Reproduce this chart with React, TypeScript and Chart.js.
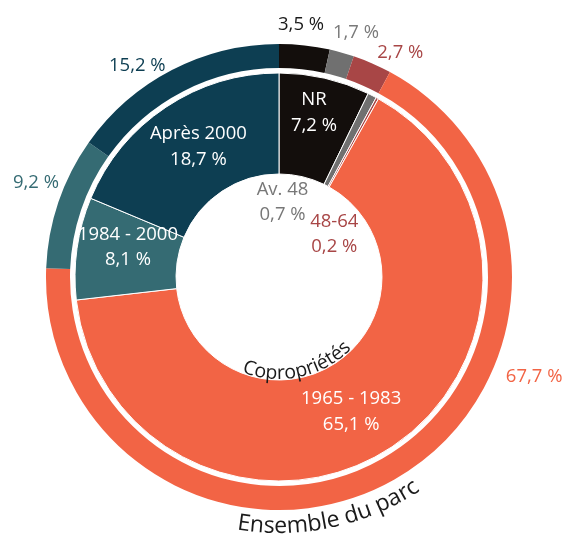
import React, { useEffect, useRef } from "react";
import { Chart, registerables } from "chart.js";

Chart.register(...registerables);

// ---------- data ----------
const categories = ["NR", "Av. 48", "48-64", "1965 - 1983", "1984 - 2000", "Après 2000"];
const ensembleValues = [3.5, 1.7, 2.7, 67.7, 9.2, 15.2];
const coproValues = [7.2, 0.7, 0.2, 65.1, 8.1, 18.7];
const ringTitles = ["Ensemble du parc", "Copropriétés"];

// ---------- style ----------
const sliceColors = ["#130e0c", "#707070", "#a84646", "#f26445", "#356b73", "#0d3e52"];
const outerTextColors = ["#1a1a1a", "#7a7a7a", "#a84646", "#f26445", "#356b73", "#0d3e52"];
const innerTextColors = ["#ffffff", "#777777", "#a84646", "#ffffff", "#ffffff", "#ffffff"];
// label anchors: angle (deg clockwise from top) and radius (px) around chart centre
const outerPlacement = [
  { a: 5.0, r: 253 },
  { a: 17.5, r: 256 },
  { a: 28.4, r: 255 },
  { a: 111.4, r: 274 },
  { a: 291.1, r: 260.5 },
  { a: 326.1, r: 254 },
];
const innerPlacement = [
  { a: 12.0, r: 168 },
  { a: 2.7, r: 75 },
  { a: 52.2, r: 70 },
  { a: 151.8, r: 152.6 },
  { a: 281.2, r: 154 },
  { a: 328.2, r: 153 },
];
const FONT = '"Open Sans", "Noto Sans", sans-serif';

const fmt = (v: number) => v.toFixed(1).replace(".", ",") + " %";

function drawBottomArcText(
  ctx: CanvasRenderingContext2D,
  text: string,
  cx: number,
  cy: number,
  radius: number,
  centerAngle: number
) {
  const widths = Array.from(text).map((ch) => ctx.measureText(ch).width);
  const total = widths.reduce((s, w) => s + w, 0);
  let cur = centerAngle + total / radius / 2;
  Array.from(text).forEach((ch, i) => {
    const w = widths[i];
    const ang = cur - w / 2 / radius;
    ctx.save();
    ctx.translate(cx + radius * Math.cos(ang), cy + radius * Math.sin(ang));
    ctx.rotate(ang - Math.PI / 2);
    ctx.textAlign = "center";
    ctx.textBaseline = "alphabetic";
    ctx.fillText(ch, 0, 0);
    ctx.restore();
    cur -= w / radius;
  });
}

const labelPlugin = {
  id: "ringLabels",
  afterDraw(chart: any) {
    const ctx = chart.ctx as CanvasRenderingContext2D;
    const outerMeta = chart.getDatasetMeta(0);
    const innerMeta = chart.getDatasetMeta(2);
    const arc0 = outerMeta.data[0];
    const cx = arc0.x;
    const cy = arc0.y;
    const pt = (aDeg: number, r: number) => {
      const a = (aDeg * Math.PI) / 180;
      return { x: cx + r * Math.sin(a), y: cy - r * Math.cos(a) };
    };
    ctx.save();
    ctx.font = `18.5px ${FONT}`;
    ctx.textAlign = "center";
    ctx.textBaseline = "middle";
    ensembleValues.forEach((v, i) => {
      const p = pt(outerPlacement[i].a, outerPlacement[i].r);
      ctx.fillStyle = outerTextColors[i];
      ctx.fillText(fmt(v), p.x, p.y);
    });
    coproValues.forEach((v, i) => {
      const p = pt(innerPlacement[i].a, innerPlacement[i].r);
      ctx.fillStyle = innerTextColors[i];
      ctx.fillText(categories[i], p.x, p.y - 12.75);
      ctx.fillText(fmt(v), p.x, p.y + 12.75);
    });
    // curved ring titles
    const innerArc = innerMeta.data[0];
    const outerArc = outerMeta.data[0];
    const titleAngle = (78 * Math.PI) / 180;
    ctx.fillStyle = "#1a1a1a";
    ctx.font = `23px ${FONT}`;
    drawBottomArcText(ctx, ringTitles[0], cx, cy, outerArc.outerRadius + 23, titleAngle);
    ctx.font = `19.5px ${FONT}`;
    drawBottomArcText(ctx, ringTitles[1], cx, cy, innerArc.innerRadius - 1, titleAngle);
    ctx.restore();
  },
};

export default function App() {
  const canvasRef = useRef<HTMLCanvasElement | null>(null);

  useEffect(() => {
    if (!canvasRef.current) return;
    const chart = new Chart(canvasRef.current, {
      type: "doughnut",
      data: {
        labels: categories,
        datasets: [
          {
            label: ringTitles[0],
            data: ensembleValues,
            backgroundColor: sliceColors,
            borderWidth: 0,
            weight: 24,
          },
          {
            label: "gap",
            data: [100],
            backgroundColor: ["rgba(0,0,0,0)"],
            borderWidth: 0,
            weight: 5,
          },
          {
            label: ringTitles[1],
            data: coproValues,
            backgroundColor: sliceColors,
            borderColor: "#ffffff",
            borderWidth: 1,
            weight: 101,
          },
        ],
      },
      options: {
        responsive: false,
        animation: false,
        events: [],
        radius: 233,
        cutout: "44.2%",
        layout: { padding: { left: 0, right: 8, top: 20, bottom: 0 } },
        plugins: {
          legend: { display: false },
          tooltip: { enabled: false },
          title: { display: false },
        },
      } as any,
      plugins: [labelPlugin],
    });
    return () => chart.destroy();
  }, []);

  return (
    <div style={{ position: "absolute", left: 0, top: 0, width: 566, height: 534, background: "#fff" }}>
      <canvas ref={canvasRef} width={566} height={534} style={{ display: "block" }} />
    </div>
  );
}
